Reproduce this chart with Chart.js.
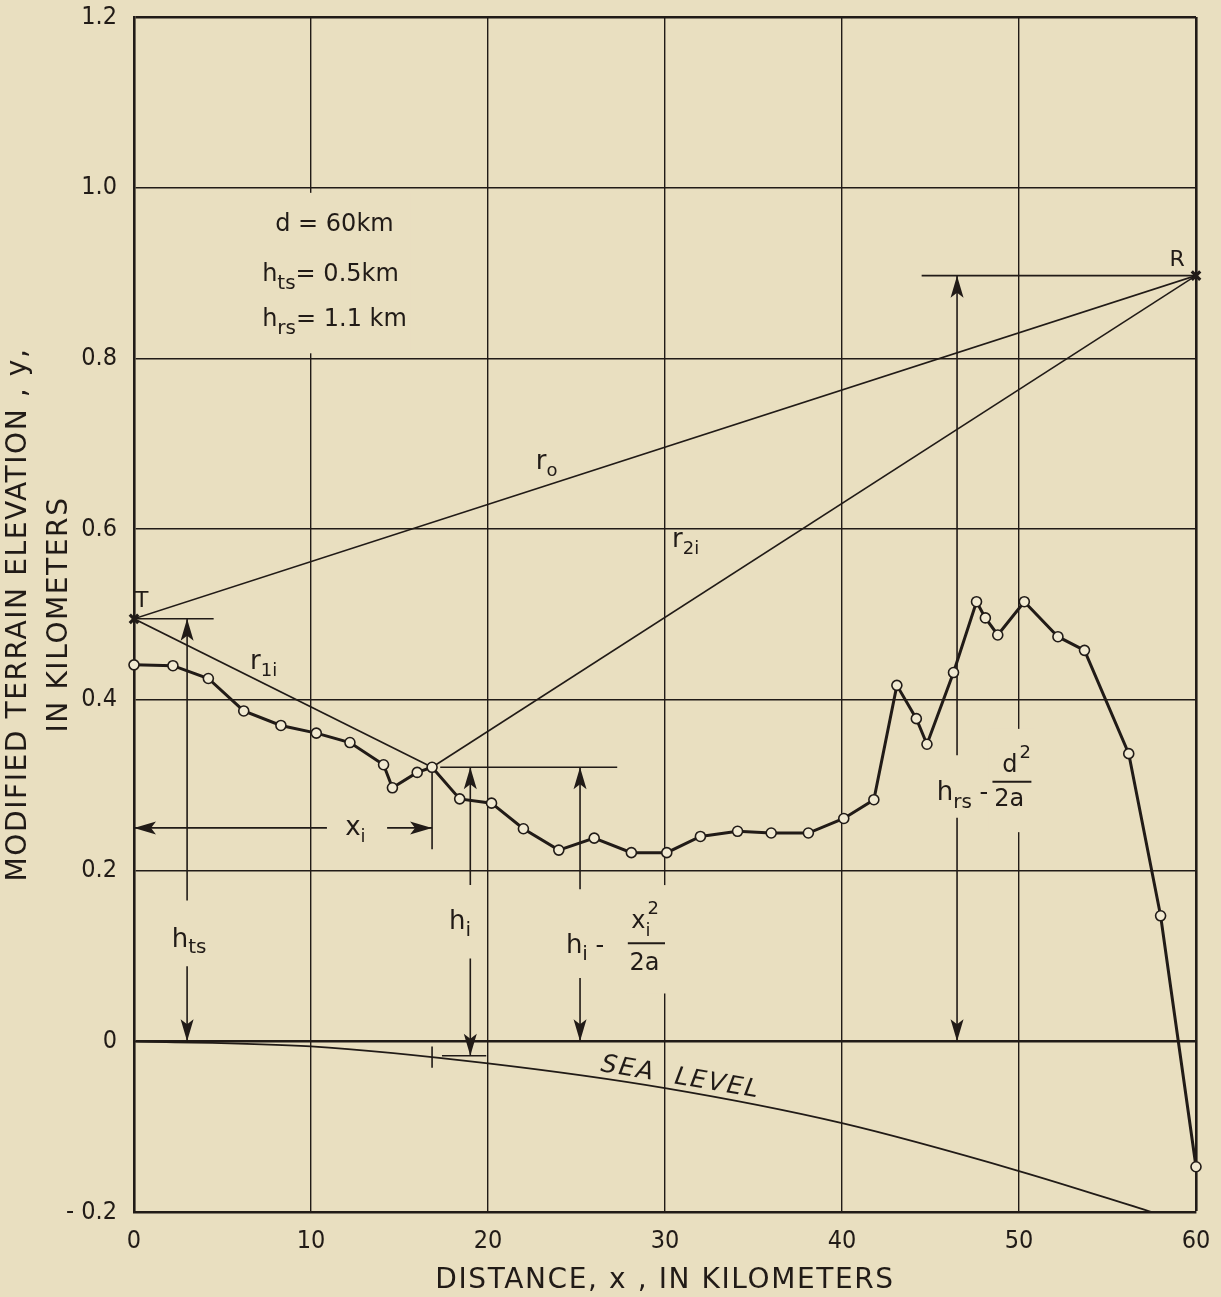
<!DOCTYPE html>
<html>
<head>
<meta charset="utf-8">
<title>Modified terrain elevation</title>
<script src="https://cdn.jsdelivr.net/npm/chart.js@4.4.1/dist/chart.umd.min.js"></script>
<style>
  html, body { margin: 0; padding: 0; background: #e9dfc0; }
  #wrap { width: 1221px; height: 1297px; }
</style>
</head>
<body>
<div id="wrap"><canvas id="myChart" width="1221" height="1297"></canvas></div>
<script>
// terrain profile (distance km, elevation km)
var terrainX = [0, 2.2, 4.2, 6.2, 8.3, 10.3, 12.2, 14.1, 14.6, 16.0, 16.84, 18.4, 20.2,
                22.0, 24.0, 26.0, 28.1, 30.1, 32.0, 34.1, 36.0, 38.1, 40.1, 41.8,
                43.1, 44.2, 44.8, 46.3, 47.6, 48.1, 48.8, 50.3, 52.2, 53.7, 56.2, 58.0, 60];
var terrainY = [0.441, 0.440, 0.425, 0.387, 0.370, 0.361, 0.350, 0.324, 0.297, 0.315, 0.321, 0.284, 0.279,
                0.249, 0.224, 0.238, 0.221, 0.221, 0.240, 0.246, 0.244, 0.244, 0.261, 0.283,
                0.417, 0.378, 0.348, 0.432, 0.515, 0.496, 0.476, 0.515, 0.474, 0.458, 0.337, 0.147, -0.147];

// sea level curve
var seaX = [0, 10, 20, 30, 40, 50, 57.5];
var seaY = [0, -0.006, -0.026, -0.055, -0.096, -0.152, -0.2];

// transmitter / receiver
var endX = [0, 60];
var endY = [0.495, 0.897];

var xTicks = [0, 10, 20, 30, 40, 50, 60];
var yTicks = [-0.2, 0, 0.2, 0.4, 0.6, 0.8, 1.0, 1.2];
var yTickLabels = ['- 0.2', '0', '0.2', '0.4', '0.6', '0.8', '1.0', '1.2'];

// construction lines [x1, y1, x2, y2]
var guideSegments = [
    [0, 0.495, 60, 0.897],
    [0, 0.495, 16.84, 0.321],
    [16.84, 0.321, 60, 0.897],
    [0, 0.495, 4.5, 0.495],
    [3.0, 0.495, 3.0, 0.165], [3.0, 0.088, 3.0, 0],
    [0, 0.25, 10.9, 0.25], [14.3, 0.25, 16.84, 0.25],
    [16.84, 0.321, 16.84, 0.225],
    [17.3, 0.321, 27.3, 0.321],
    [19.0, 0.321, 19.0, 0.183], [19.0, 0.097, 19.0, -0.017],
    [17.4, -0.017, 19.9, -0.017],
    [16.84, -0.006, 16.84, -0.031],
    [25.2, 0.321, 25.2, 0.178], [25.2, 0.074, 25.2, 0],
    [44.5, 0.897, 60, 0.897],
    [46.5, 0.897, 46.5, 0.335], [46.5, 0.262, 46.5, 0]
];

var arrowHeads = [
    [3.0, 0.495, 'up'], [3.0, 0, 'down'],
    [0, 0.25, 'left'], [16.84, 0.25, 'right'],
    [19.0, 0.321, 'up'], [19.0, -0.017, 'down'],
    [25.2, 0.321, 'up'], [25.2, 0, 'down'],
    [46.5, 0.897, 'up'], [46.5, 0, 'down']
];

const INK = '#211b17';
const PAPER = '#e9dfc0';
const TICK_FONT = '"Liberation Sans Narrow", "DejaVu Sans Condensed", sans-serif';
const LABEL_FONT = '"DejaVu Sans", sans-serif';

function pts(xs, ys) {
    return xs.map((x, i) => ({ x: x, y: ys[i] }));
}

function runs(ctx, x, y, parts) {
    var cx = x;
    parts.forEach(function (p) {
        ctx.font = p[1] + 'px ' + LABEL_FONT;
        ctx.fillText(p[0], cx, y + (p[2] || 0));
        cx += ctx.measureText(p[0]).width;
    });
    return cx;
}

function arrowHead(ctx, x, y, dir) {
    var L = 22, W = 6.5, N = 5;
    ctx.save();
    ctx.translate(x, y);
    ctx.rotate({ up: 0, down: Math.PI, left: -Math.PI / 2, right: Math.PI / 2 }[dir]);
    ctx.beginPath();
    ctx.moveTo(0, 0);
    ctx.lineTo(W, L);
    ctx.lineTo(0, L - N);
    ctx.lineTo(-W, L);
    ctx.closePath();
    ctx.fill();
    ctx.restore();
}

const paperPlugin = {
    id: 'paper',
    beforeDraw(chart) {
        const ctx = chart.ctx;
        ctx.save();
        ctx.fillStyle = PAPER;
        ctx.fillRect(0, 0, chart.width, chart.height);
        ctx.restore();
    },
    afterDatasetsDraw(chart) {
        const ctx = chart.ctx;
        const sx = chart.scales.x, sy = chart.scales.y;
        const X = v => sx.getPixelForValue(v);
        const Y = v => sy.getPixelForValue(v);
        ctx.save();
        ctx.fillStyle = INK;
        ctx.strokeStyle = INK;
        ctx.textBaseline = 'alphabetic';
        ctx.textAlign = 'left';

        arrowHeads.forEach(a => arrowHead(ctx, X(a[0]), Y(a[1]), a[2]));

        // label boxes break the grid lines behind them
        function blank(x1, y1, x2, y2) {
            ctx.fillStyle = PAPER;
            ctx.fillRect(X(x1), Y(y2), X(x2) - X(x1), Y(y1) - Y(y2));
            ctx.fillStyle = INK;
        }
        blank(7.0, 0.806, 15.6, 0.994);
        blank(27.8, 0.056, 30.2, 0.183);
        blank(48.3, 0.245, 50.9, 0.366);

        // parameter block
        runs(ctx, X(7.98), Y(0.949), [['d', 24], [' = ', 24], ['60km', 24]]);
        runs(ctx, X(7.24), Y(0.891), [['h', 24], ['ts', 20, 8], ['= ', 24], ['0.5km', 24]]);
        runs(ctx, X(7.24), Y(0.8375), [['h', 24], ['rs', 20, 8], ['= ', 24], ['1.1 km', 24]]);

        // points and ray labels
        runs(ctx, X(0.05), Y(0.509), [['T', 22]]);
        runs(ctx, X(58.5), Y(0.908), [['R', 22]]);
        runs(ctx, X(22.7), Y(0.671), [['r', 26], ['o', 18, 7]]);
        runs(ctx, X(30.4), Y(0.579), [['r', 26], ['2i', 18, 7]]);
        runs(ctx, X(6.56), Y(0.436), [['r', 26], ['1i', 18, 7]]);
        runs(ctx, X(11.93), Y(0.2416), [['x', 26], ['i', 18, 7]]);

        // heights
        runs(ctx, X(2.13), Y(0.111), [['h', 26], ['ts', 20, 6]]);
        runs(ctx, X(17.8), Y(0.131), [['h', 26], ['i', 20, 7]]);
        runs(ctx, X(24.4), Y(0.104), [['h', 26], ['i', 20, 7], [' - ', 24]]);
        var nx = runs(ctx, X(28.1), Y(0.133), [['x', 24]]);
        runs(ctx, nx, Y(0.133), [['i', 18, 8]]);
        runs(ctx, nx + 2, Y(0.133), [['2', 18, -14]]);
        ctx.lineWidth = 2;
        ctx.beginPath();
        ctx.moveTo(X(27.9), Y(0.115));
        ctx.lineTo(X(30.0), Y(0.115));
        ctx.stroke();
        runs(ctx, X(28.0), Y(0.084), [['2a', 24]]);

        runs(ctx, X(45.36), Y(0.283), [['h', 26], ['rs', 20, 8], [' -', 24]]);
        var dx = runs(ctx, X(49.05), Y(0.316), [['d', 24]]);
        runs(ctx, dx + 2, Y(0.316), [['2', 18, -14]]);
        ctx.beginPath();
        ctx.moveTo(X(48.5), Y(0.304));
        ctx.lineTo(X(50.7), Y(0.304));
        ctx.stroke();
        runs(ctx, X(48.6), Y(0.276), [['2a', 24]]);

        // sea level, along the curve
        ctx.save();
        ctx.translate(X(30.88), Y(-0.043));
        ctx.rotate(9.5 * Math.PI / 180);
        ctx.font = 'italic 25px ' + LABEL_FONT;
        ctx.letterSpacing = '2px';
        ctx.textAlign = 'center';
        ctx.textBaseline = 'middle';
        ctx.fillText('SEA  LEVEL', 0, 0);
        ctx.restore();

        ctx.restore();
    },
    afterDraw(chart) {
        const ctx = chart.ctx;
        const area = chart.chartArea;
        ctx.save();
        ctx.fillStyle = INK;
        ctx.font = '28px ' + LABEL_FONT;
        ctx.letterSpacing = '1.6px';
        ctx.textAlign = 'center';
        ctx.textBaseline = 'alphabetic';
        ctx.fillText('DISTANCE, x , IN KILOMETERS', (area.left + area.right) / 2, 1288);

        ctx.translate(0, (area.top + area.bottom) / 2);
        ctx.rotate(-Math.PI / 2);
        ctx.textBaseline = 'middle';
        ctx.fillText('MODIFIED TERRAIN ELEVATION , y,', 0, 19);
        ctx.fillText('IN KILOMETERS', 0, 60);
        ctx.restore();
    }
};

var datasets = [
    {
        label: 'terrain',
        data: pts(terrainX, terrainY),
        showLine: true,
        borderColor: INK,
        borderWidth: 3,
        pointRadius: 5,
        pointBackgroundColor: '#f1ead2',
        pointBorderColor: INK,
        pointBorderWidth: 1.6,
        clip: false,
        order: 0
    },
    {
        label: 'T, R',
        data: pts(endX, endY),
        showLine: false,
        pointStyle: 'crossRot',
        pointRadius: 6,
        borderColor: INK,
        pointBorderWidth: 3.2,
        clip: false,
        order: 1
    },
    {
        label: 'sea level',
        data: pts(seaX, seaY),
        showLine: true,
        borderColor: INK,
        borderWidth: 1.8,
        pointRadius: 0,
        cubicInterpolationMode: 'monotone',
        order: 2
    }
];

guideSegments.forEach(function (s) {
    datasets.push({
        label: 'guide',
        data: [{ x: s[0], y: s[1] }, { x: s[2], y: s[3] }],
        showLine: true,
        borderColor: INK,
        borderWidth: 1.6,
        pointRadius: 0,
        order: 3
    });
});

var ctx = document.getElementById('myChart').getContext('2d');
var myChart = new Chart(ctx, {
    type: 'scatter',
    data: { datasets: datasets },
    plugins: [paperPlugin],
    options: {
        responsive: false,
        animation: false,
        events: [],
        layout: { padding: { left: 0, top: 17, right: 25, bottom: 0 } },
        plugins: {
            legend: { display: false },
            tooltip: { enabled: false }
        },
        scales: {
            x: {
                type: 'linear',
                min: 0,
                max: 60,
                afterBuildTicks: s => { s.ticks = xTicks.map(v => ({ value: v })); },
                afterFit: s => { s.height = 85; s.paddingLeft = 0; s.paddingRight = 0; },
                grid: {
                    color: INK,
                    lineWidth: c => (c.tick && c.tick.value === 60 ? 2.6 : 1.4),
                    drawTicks: false
                },
                border: { display: true, color: INK, width: 2.6 },
                ticks: {
                    color: INK,
                    padding: 14,
                    autoSkip: false,
                    maxRotation: 0,
                    font: { family: TICK_FONT, size: 25 },
                    callback: v => String(v)
                }
            },
            y: {
                type: 'linear',
                min: -0.2,
                max: 1.2,
                afterBuildTicks: s => { s.ticks = yTicks.map(v => ({ value: v })); },
                afterFit: s => { s.width = 134; s.paddingTop = 0; s.paddingBottom = 0; },
                grid: {
                    color: INK,
                    lineWidth: c => (c.tick && (c.tick.value === 0 || c.tick.value === 1.2) ? 2.6 : 1.4),
                    drawTicks: false
                },
                border: { display: true, color: INK, width: 2.6 },
                ticks: {
                    color: INK,
                    padding: 17,
                    font: { family: TICK_FONT, size: 25 },
                    callback: (v, i) => yTickLabels[i]
                }
            }
        }
    }
});
</script>
</body>
</html>
